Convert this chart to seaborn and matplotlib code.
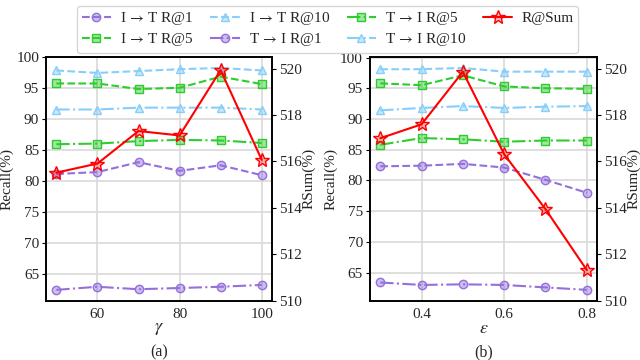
import matplotlib
matplotlib.use("Agg")
import matplotlib.pyplot as plt
import seaborn as sns
from matplotlib.colors import to_rgba

# parameter sweeps
gamma = [50, 60, 70, 80, 90, 100]
eps = [0.3, 0.4, 0.5, 0.6, 0.7, 0.8]

# (a) gamma
a_i2t_r1 = [81.2, 81.5, 83.1, 81.7, 82.6, 81.0]
a_i2t_r5 = [95.8, 95.8, 94.9, 95.1, 96.9, 95.7]
a_i2t_r10 = [97.9, 97.5, 97.8, 98.1, 98.3, 97.9]
a_t2i_r1 = [62.5, 63.0, 62.6, 62.8, 63.0, 63.3]
a_t2i_r5 = [86.0, 86.1, 86.5, 86.7, 86.6, 86.2]
a_t2i_r10 = [91.6, 91.6, 91.9, 91.9, 91.9, 91.6]
a_rsum = [515.52, 515.91, 517.31, 517.12, 519.93, 516.07]

# (b) epsilon
b_i2t_r1 = [82.3, 82.4, 82.7, 82.1, 80.1, 78.0]
b_i2t_r5 = [95.8, 95.5, 97.1, 95.3, 95.0, 94.9]
b_i2t_r10 = [98.1, 98.1, 98.3, 97.7, 97.7, 97.7]
b_t2i_r1 = [63.4, 63.0, 63.1, 63.0, 62.6, 62.2]
b_t2i_r5 = [85.8, 86.9, 86.7, 86.3, 86.5, 86.5]
b_t2i_r10 = [91.4, 91.8, 92.1, 91.8, 92.0, 92.1]
b_rsum = [517.0, 517.6, 519.86, 516.31, 513.95, 511.33]

labels = [r"I$\,\rightarrow\,$T R@1", r"I$\,\rightarrow\,$T R@5",
          r"I$\,\rightarrow\,$T R@10", r"T$\,\rightarrow\,$I R@1",
          r"T$\,\rightarrow\,$I R@5", r"T$\,\rightarrow\,$I R@10", "R@Sum"]

purple = "#9370DB"
green = "#2ECC2E"
blue = "#87CEFA"
red = "#FF0000"

styles = [
    (purple, "--", "o"),
    (green, "--", "s"),
    (blue, "--", "^"),
    (purple, "-.", "o"),
    (green, "-.", "s"),
    (blue, "-.", "^"),
]

sns.set_theme(style="whitegrid")
plt.rcParams["font.family"] = "serif"
plt.rcParams["font.serif"] = ["Liberation Serif", "DejaVu Serif"]
plt.rcParams["mathtext.fontset"] = "stix"
plt.rcParams["font.size"] = 11

fig = plt.figure(figsize=(6.4, 3.6), dpi=100)
ax_a = fig.add_axes([0.072, 0.164, 0.353, 0.678])
ax_b = fig.add_axes([0.578, 0.164, 0.355, 0.678])


def draw(ax, x, series, rsum, xticks, xlabel, cap):
    for (c, ls, m), y, lab in zip(styles, series, labels[:6]):
        sns.lineplot(x=x, y=y, ax=ax, color=c, linestyle=ls, marker=m,
                     markersize=6, markerfacecolor=to_rgba(c, 0.45),
                     markeredgecolor=c, markeredgewidth=1, lw=1.5, label=lab)
    ax2 = ax.twinx()
    sns.lineplot(x=x, y=rsum, ax=ax2, color=red, marker="*", markersize=10,
                 markerfacecolor=to_rgba(red, 0.3), markeredgecolor=red,
                 markeredgewidth=1, lw=1.5, label=labels[6])
    ax2.set_ylim(510, 520.5)
    ax2.set_yticks([510, 512, 514, 516, 518, 520])
    ax2.grid(False)
    ax2.set_ylabel("RSum(%)", fontsize=11, labelpad=0)
    ax.set_ylabel("Recall(%)", fontsize=11, labelpad=2)
    ax.set_xticks(xticks)
    ax.set_yticks([65, 70, 75, 80, 85, 90, 95, 100])
    ax.set_xlabel(xlabel, fontsize=13, labelpad=-1)
    for a in (ax, ax2):
        for sp in a.spines.values():
            sp.set_color("black")
            sp.set_linewidth(1.2)
        a.tick_params(axis="both", which="major", length=3, width=0.8,
                      color="black", labelsize=11, pad=2)
        if a.get_legend():
            a.get_legend().remove()
    ax.grid(True, color="#d9d9d9", lw=1.2)
    pos = ax.get_position()
    fig.text((pos.x0 + pos.x1) / 2, 0.022, cap, ha="center", va="center",
             fontsize=11.5)
    return ax2


ax2a = draw(ax_a, gamma,
            [a_i2t_r1, a_i2t_r5, a_i2t_r10, a_t2i_r1, a_t2i_r5, a_t2i_r10],
            a_rsum, [60, 80, 100], r"$\gamma$", "(a)")
ax2b = draw(ax_b, eps,
            [b_i2t_r1, b_i2t_r5, b_i2t_r10, b_t2i_r1, b_t2i_r5, b_t2i_r10],
            b_rsum, [0.4, 0.6, 0.8], r"$\varepsilon$", "(b)")

h1, l1 = ax_a.get_legend_handles_labels()
h2, l2 = ax2a.get_legend_handles_labels()
fig.legend(h1 + h2, l1 + l2, loc="upper center", bbox_to_anchor=(0.512, 1.005),
           ncol=4, fontsize=11, frameon=True, edgecolor="#cccccc",
           handlelength=1.9, handletextpad=0.6, columnspacing=1.1,
           borderpad=0.3, labelspacing=0.25, fancybox=True)

fig.savefig("out.png", dpi=100)
